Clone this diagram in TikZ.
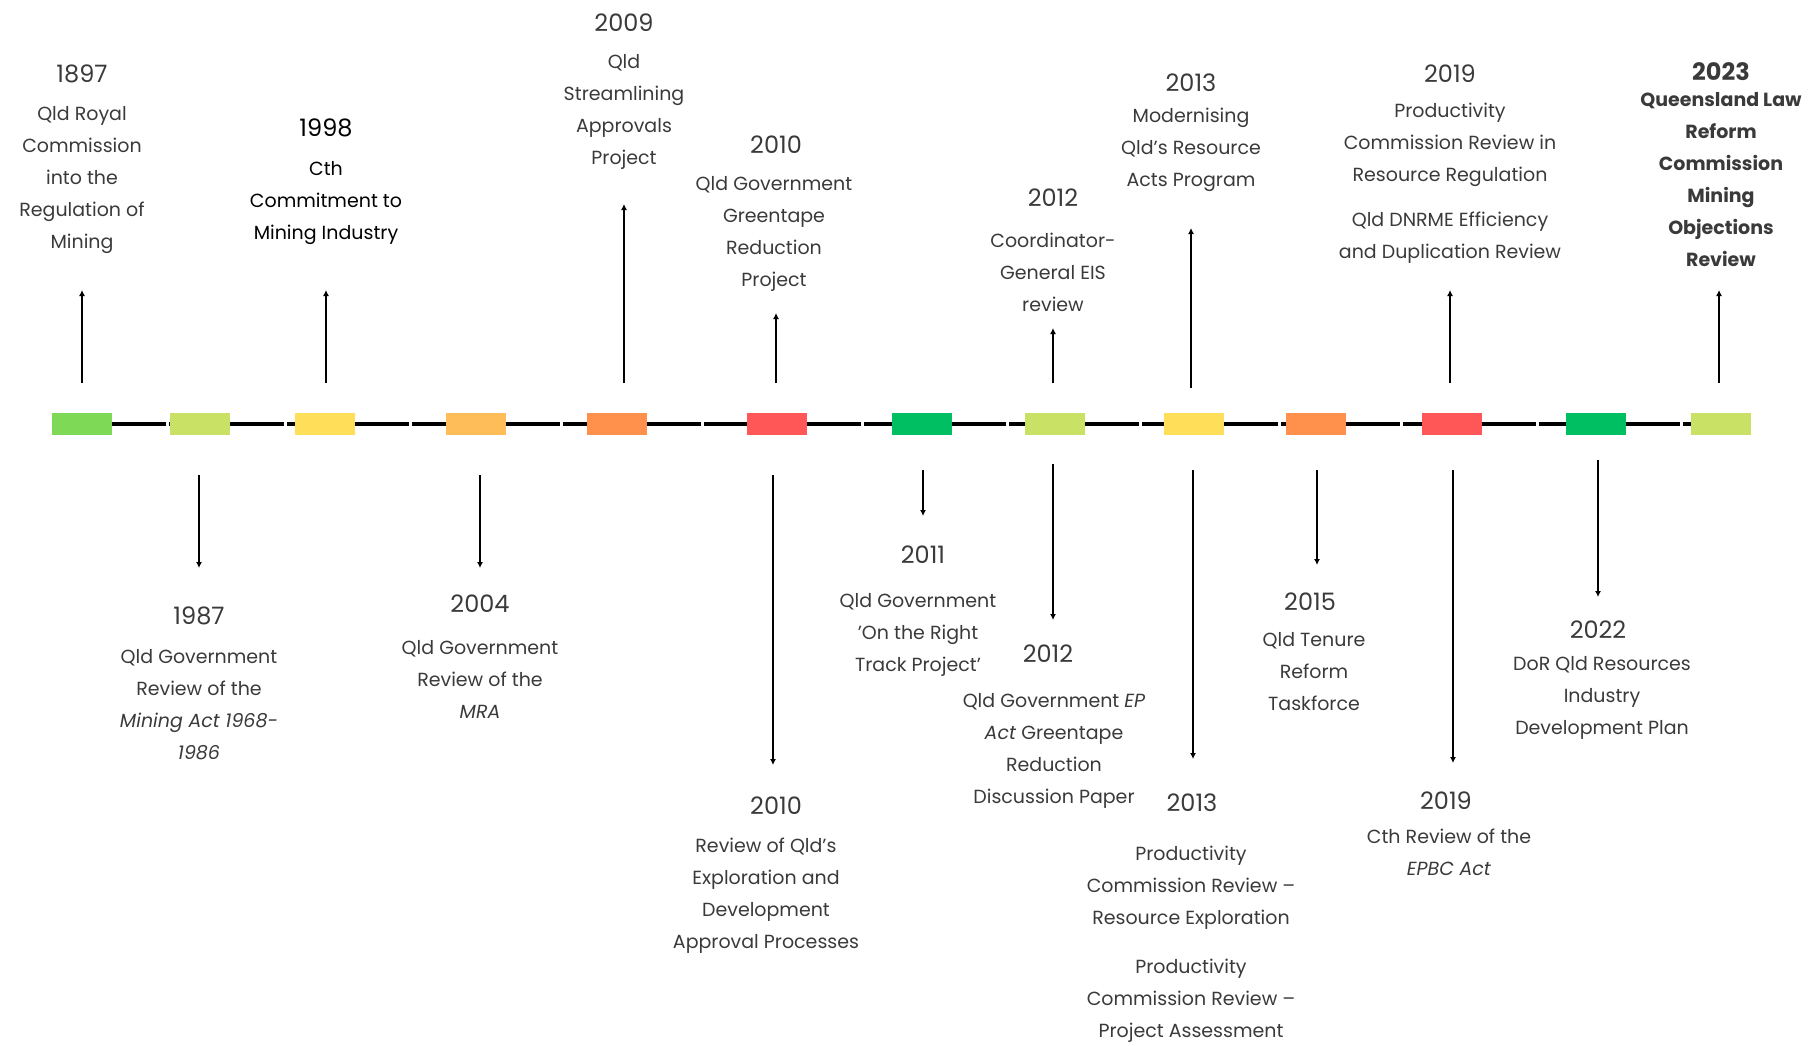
\documentclass[tikz,border=0pt]{standalone}
\usepackage{fontspec}
\setmainfont{Poppins}
\usetikzlibrary{arrows.meta,positioning}
\definecolor{textgrey}{HTML}{3A3A3A}
\definecolor{tlgreen}{HTML}{7ED957}
\definecolor{tllime}{HTML}{C9E265}
\definecolor{tlyellow}{HTML}{FFDE59}
\definecolor{tllorange}{HTML}{FFBD59}
\definecolor{tlorange}{HTML}{FF914D}
\definecolor{tlred}{HTML}{FF5757}
\definecolor{tldgreen}{HTML}{00BF63}
\tikzset{
  yearbox/.style={minimum width=30pt,minimum height=11pt,inner sep=0pt},
  yr/.style={font=\fontsize{12}{14}\selectfont,text=textgrey,inner sep=0pt},
  desc/.style={font=\fontsize{9.5}{16}\selectfont,text=textgrey,align=center,inner sep=0pt},
  conn/.style={line width=0.8pt,-{Latex[length=3pt,width=3pt]}},
  spine/.style={line width=2.2pt,dash pattern=on 27pt off 1.5pt}
}

\begin{document}
\begin{tikzpicture}[x=0.5pt,y=-0.5pt]
\useasboundingbox (0,0) rectangle (1818,1045);

% timeline boxes
\node[yearbox,fill=tlgreen]   (b1)  at (82,424) {};
\node[yearbox,fill=tllime]    (b2)  at (200,424) {};
\node[yearbox,fill=tlyellow]  (b3)  at (325,424) {};
\node[yearbox,fill=tllorange] (b4)  at (476,424) {};
\node[yearbox,fill=tlorange]  (b5)  at (617,424) {};
\node[yearbox,fill=tlred]     (b6)  at (777,424) {};
\node[yearbox,fill=tldgreen]  (b7)  at (922,424) {};
\node[yearbox,fill=tllime]    (b8)  at (1055,424) {};
\node[yearbox,fill=tlyellow]  (b9)  at (1194,424) {};
\node[yearbox,fill=tlorange]  (b10) at (1316,424) {};
\node[yearbox,fill=tlred]     (b11) at (1452,424) {};
\node[yearbox,fill=tldgreen]  (b12) at (1596,424) {};
\node[yearbox,fill=tllime]    (b13) at (1721,424) {};
\foreach \a/\b in {b1/b2,b2/b3,b3/b4,b4/b5,b5/b6,b6/b7,b7/b8,b8/b9,b9/b10,b10/b11,b11/b12,b12/b13}
  \draw[spine] (\a.east) -- (\b.west);

% above the line
\node[yr] (y1897) at (82,74) {1897};
\node[desc] (d1897) at (82,180) {Qld Royal\\Commission\\into the\\Regulation of\\Mining};
\node[yr,text=black] (y1998) at (326,128) {1998};
\node[desc,text=black] (d1998) at (326,203) {Cth\\Commitment to\\Mining Industry};
\node[yr] (y2009) at (624,23) {2009};
\node[desc] (d2009) at (624,112) {Qld\\Streamlining\\Approvals\\Project};
\node[yr] (y2010a) at (776,145) {2010};
\node[desc] (d2010a) at (774,234) {Qld Government\\Greentape\\Reduction\\Project};
\node[yr] (y2012a) at (1053,198) {2012};
\node[desc] (d2012a) at (1053,272) {Coordinator-\\General EIS\\review};
\node[yr] (y2013a) at (1191,83) {2013};
\node[desc] (d2013a) at (1191,150) {Modernising\\Qld's Resource\\Acts Program};
\node[yr] (y2019a) at (1450,74) {2019};
\node[desc] (d2019a) at (1450,145) {Productivity\\Commission Review in\\Resource Regulation};
\node[desc] (d2019b) at (1450,238) {Qld DNRME Efficiency\\and Duplication Review};
\node[yr,font=\fontsize{12}{14}\selectfont\bfseries] (y2023) at (1721,72) {2023};
\node[desc,font=\fontsize{9.5}{16}\selectfont\bfseries] (d2023) at (1721,180) {Queensland Law\\Reform\\Commission\\Mining\\Objections\\Review};

% below the line
\node[yr] (y1987) at (199,616) {1987};
\node[desc] (d1987) at (199,705) {Qld Government\\Review of the\\\textit{Mining Act 1968-}\\\textit{1986}};
\node[yr] (y2004) at (480,604) {2004};
\node[desc] (d2004) at (480,679) {Qld Government\\Review of the\\\textit{MRA}};
\node[yr] (y2010b) at (776,806) {2010};
\node[desc] (d2010b) at (766,896) {Review of Qld's\\Exploration and\\Development\\Approval Processes};
\node[yr] (y2011) at (923,555) {2011};
\node[desc] (d2011) at (918,635) {Qld Government\\'On the Right\\Track Project'};
\node[yr] (y2012b) at (1048,654) {2012};
\node[desc] (d2012b) at (1054,751) {Qld Government \textit{EP}\\\textit{Act} Greentape\\Reduction\\Discussion Paper};
\node[yr] (y2013b) at (1192,803) {2013};
\node[desc] (d2013b) at (1191,888) {Productivity\\Commission Review –\\Resource Exploration};
\node[desc] (d2013c) at (1191,1001) {Productivity\\Commission Review –\\Project Assessment};
\node[yr] (y2015) at (1310,602) {2015};
\node[desc] (d2015) at (1314,672) {Qld Tenure\\Reform\\Taskforce};
\node[yr] (y2019b) at (1446,801) {2019};
\node[desc] (d2019c) at (1449,852) {Cth Review of the\\\textit{EPBC Act}};
\node[yr] (y2022) at (1598,630) {2022};
\node[desc] (d2022) at (1602,698) {DoR Qld Resources\\Industry\\Development Plan};

% connectors
\coordinate (u1) at (82,383);    \coordinate (v1) at (82,290);
\coordinate (u2) at (326,383);   \coordinate (v2) at (326,290);
\coordinate (u3) at (624,383);   \coordinate (v3) at (624,204);
\coordinate (u4) at (776,383);   \coordinate (v4) at (776,313);
\coordinate (u5) at (1053,383);  \coordinate (v5) at (1053,328);
\coordinate (u6) at (1191,388);  \coordinate (v6) at (1191,228);
\coordinate (u7) at (1450,383);  \coordinate (v7) at (1450,290);
\coordinate (u8) at (1719,383);  \coordinate (v8) at (1719,290);
\foreach \i in {1,...,8} \draw[conn] (u\i) -- (v\i);

\coordinate (p1) at (199,475);   \coordinate (q1) at (199,568);
\coordinate (p2) at (480,475);   \coordinate (q2) at (480,568);
\coordinate (p3) at (773,475);   \coordinate (q3) at (773,765);
\coordinate (p4) at (923,470);   \coordinate (q4) at (923,516);
\coordinate (p5) at (1053,464);  \coordinate (q5) at (1053,620);
\coordinate (p6) at (1193,470);  \coordinate (q6) at (1193,759);
\coordinate (p7) at (1317,470);  \coordinate (q7) at (1317,565);
\coordinate (p8) at (1453,470);  \coordinate (q8) at (1453,763);
\coordinate (p9) at (1598,460);  \coordinate (q9) at (1598,597);
\foreach \i in {1,...,9} \draw[conn] (p\i) -- (q\i);
\end{tikzpicture}
\end{document}
